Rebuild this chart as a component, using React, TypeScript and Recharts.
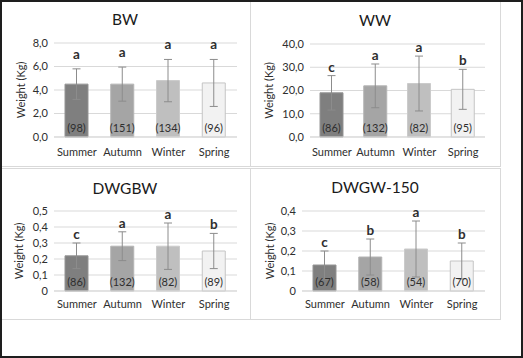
import {
  BarChart,
  Bar,
  XAxis,
  YAxis,
  CartesianGrid,
  ErrorBar,
  Cell,
  LabelList,
} from "recharts";

const seasons = ["Summer", "Autumn", "Winter", "Spring"];
const barFills = ["#7f7f7f", "#a5a5a5", "#bfbfbf", "#f2f2f2"];
const barStrokes = ["#959595", "#b4b4b4", "#cbcbcb", "#c4c4c4"];

// BW
const bwMean = [4.5, 4.5, 4.8, 4.6];
const bwSd = [1.3, 1.45, 1.8, 2.0];
const bwN = [98, 151, 134, 96];
const bwLetters = ["a", "a", "a", "a"];
const bwTicks = [0, 2, 4, 6, 8];
const bwTickLabels = ["0,0", "2,0", "4,0", "6,0", "8,0"];

// WW
const wwMean = [19, 22, 23, 20.5];
const wwSd = [7.4, 9.4, 11.8, 8.6];
const wwN = [86, 132, 82, 95];
const wwLetters = ["c", "a", "a", "b"];
const wwTicks = [0, 10, 20, 30, 40];
const wwTickLabels = ["0,0", "10,0", "20,0", "30,0", "40,0"];

// DWGBW
const dwgbwMean = [0.22, 0.28, 0.28, 0.25];
const dwgbwSd = [0.08, 0.09, 0.145, 0.11];
const dwgbwN = [86, 132, 82, 89];
const dwgbwLetters = ["c", "a", "a", "b"];
const dwgbwTicks = [0, 0.1, 0.2, 0.3, 0.4, 0.5];
const dwgbwTickLabels = ["0", "0,1", "0,2", "0,3", "0,4", "0,5"];

// DWGW-150
const dwgwMean = [0.13, 0.17, 0.21, 0.15];
const dwgwSd = [0.07, 0.09, 0.14, 0.09];
const dwgwN = [67, 58, 54, 70];
const dwgwLetters = ["c", "b", "a", "b"];
const dwgwTicks = [0, 0.1, 0.2, 0.3, 0.4];
const dwgwTickLabels = ["0", "0,1", "0,2", "0,3", "0,4"];

const FONT = "Lato, 'Open Sans', sans-serif";
const TEXT = "#2e2e2e";
const GRID = "#d9d9d9";

type Row = { season: string; mean: number; sd: number; n: string; idx: number; letter: string };

function buildRows(mean: number[], sd: number[], n: number[], letters: string[]): Row[] {
  return seasons.map((s, i) => ({
    season: s,
    mean: mean[i],
    sd: sd[i],
    n: `(${n[i]})`,
    idx: i,
    letter: letters[i],
  }));
}

interface PanelProps {
  title: string;
  rows: Row[];
  ticks: number[];
  tickLabels: string[];
  left: number;
  top: number;
  width: number;
  height: number;
  plotTop: number;
  plotRight: number;
  yAxisWidth: number;
  xAxisHeight: number;
  xTickMargin: number;
  labelDx: number;
  letterGap: number;
  titleY: number;
}

function boxOf(props: any) {
  const vb = props.viewBox ?? {};
  return {
    x: Number(props.x ?? vb.x),
    y: Number(props.y ?? vb.y),
    width: Number(props.width ?? vb.width),
    height: Number(props.height ?? vb.height),
  };
}

function Panel({
  title,
  rows,
  ticks,
  tickLabels,
  left,
  top,
  width,
  height,
  plotTop,
  plotRight,
  yAxisWidth,
  xAxisHeight,
  xTickMargin,
  labelDx,
  letterGap,
  titleY,
}: PanelProps) {
  const domainMax = ticks[ticks.length - 1];

  const renderCount = (props: any) => {
    const { x, y, width: w, height: h } = boxOf(props);
    return (
      <text
        x={x + w / 2}
        y={y + h - 10}
        textAnchor="middle"
        dominantBaseline="central"
        fontSize={11}
        fill={TEXT}
        fontFamily={FONT}
      >
        {props.value}
      </text>
    );
  };

  const renderLetter = (props: any) => {
    const { x, y, width: w, height: h } = boxOf(props);
    const row = rows[Number(props.value)];
    if (!row) return null;
    const pxPerUnit = h / row.mean;
    const errTop = y + h - (row.mean + row.sd) * pxPerUnit;
    return (
      <text
        x={x + w / 2}
        y={errTop - letterGap}
        textAnchor="middle"
        dominantBaseline="central"
        fontSize={13.5}
        fontWeight="bold"
        fill={TEXT}
        fontFamily={FONT}
      >
        {row.letter}
      </text>
    );
  };

  return (
    <div style={{ position: "absolute", left, top, width, height }}>
      <div
        style={{
          position: "absolute",
          left: 0,
          top: titleY - 11,
          width,
          textAlign: "center",
          fontFamily: FONT,
          fontSize: 15.5,
          lineHeight: "22px",
          color: "#1a1a1a",
        }}
      >
        {title}
      </div>
      <BarChart
        width={width}
        height={height}
        data={rows}
        margin={{ top: plotTop, right: plotRight, bottom: 0, left: 0 }}
        barCategoryGap="48%"
        style={{ fontFamily: FONT }}
      >
        <CartesianGrid vertical={false} stroke={GRID} />
        <XAxis
          dataKey="season"
          height={xAxisHeight}
          tickLine={false}
          tickSize={0}
          tickMargin={xTickMargin}
          axisLine={{ stroke: GRID }}
          tick={{ fill: TEXT, fontSize: 11, fontFamily: FONT }}
          interval={0}
        />
        <YAxis
          width={yAxisWidth}
          domain={[0, domainMax]}
          ticks={ticks}
          interval={0}
          tickLine={false}
          tickSize={0}
          tickMargin={6}
          axisLine={false}
          tick={{ fill: TEXT, fontSize: 11, fontFamily: FONT }}
          tickFormatter={(v: number) => {
            const i = ticks.findIndex((t) => Math.abs(t - v) < 1e-9);
            return i >= 0 ? tickLabels[i] : String(v);
          }}
          label={{
            value: "Weight (Kg)",
            angle: -90,
            position: "center",
            dx: labelDx,
            fill: TEXT,
            fontSize: 11,
            fontFamily: FONT,
          }}
        />
        <Bar dataKey="mean" barSize={23} isAnimationActive={false}>
          {rows.map((r, i) => (
            <Cell key={r.season} fill={barFills[i]} stroke={barStrokes[i]} strokeWidth={1} />
          ))}
          <ErrorBar dataKey="sd" width={4} stroke="#8c8c8c" strokeWidth={1} direction="y" />
          <LabelList dataKey="n" content={renderCount} />
          <LabelList dataKey="idx" content={renderLetter} />
        </Bar>
      </BarChart>
    </div>
  );
}

export default function App() {
  const border = `1px solid ${GRID}`;
  return (
    <div
      style={{
        position: "fixed",
        left: 0,
        top: 0,
        width: 523,
        height: 358,
        background: "#fff",
        overflow: "hidden",
      }}
    >
      <div style={{ position: "absolute", left: 0, top: 0, width: 251, height: 167, border, boxSizing: "border-box" }} />
      <div style={{ position: "absolute", left: 250, top: 1, width: 251, height: 166, border, boxSizing: "border-box" }} />
      <div style={{ position: "absolute", left: 0, top: 168, width: 251, height: 152, border, boxSizing: "border-box" }} />
      <div style={{ position: "absolute", left: 250, top: 168, width: 251, height: 152, border, boxSizing: "border-box" }} />

      <Panel
        title="BW"
        rows={buildRows(bwMean, bwSd, bwN, bwLetters)}
        ticks={bwTicks}
        tickLabels={bwTickLabels}
        left={0}
        top={0}
        width={250}
        height={166}
        plotTop={43}
        plotRight={13}
        yAxisWidth={54}
        xAxisHeight={29}
        xTickMargin={11}
        labelDx={-6}
        letterGap={15}
        titleY={19}
      />
      <Panel
        title="WW"
        rows={buildRows(wwMean, wwSd, wwN, wwLetters)}
        ticks={wwTicks}
        tickLabels={wwTickLabels}
        left={250}
        top={0}
        width={250}
        height={166}
        plotTop={44}
        plotRight={15}
        yAxisWidth={60}
        xAxisHeight={29}
        xTickMargin={11}
        labelDx={-11}
        letterGap={9}
        titleY={20}
      />
      <Panel
        title="DWGBW"
        rows={buildRows(dwgbwMean, dwgbwSd, dwgbwN, dwgbwLetters)}
        ticks={dwgbwTicks}
        tickLabels={dwgbwTickLabels}
        left={0}
        top={167}
        width={250}
        height={152}
        plotTop={44}
        plotRight={13}
        yAxisWidth={54}
        xAxisHeight={28}
        xTickMargin={9}
        labelDx={-8}
        letterGap={9}
        titleY={21}
      />
      <Panel
        title="DWGW-150"
        rows={buildRows(dwgwMean, dwgwSd, dwgwN, dwgwLetters)}
        ticks={dwgwTicks}
        tickLabels={dwgwTickLabels}
        left={250}
        top={167}
        width={250}
        height={152}
        plotTop={44}
        plotRight={15}
        yAxisWidth={52}
        xAxisHeight={28}
        xTickMargin={9}
        labelDx={-6}
        letterGap={9}
        titleY={20}
      />

      <div
        style={{
          position: "absolute",
          left: 0,
          top: 0,
          width: 523,
          height: 358,
          border: "2px solid #1e1e1e",
          boxSizing: "border-box",
          pointerEvents: "none",
        }}
      />
    </div>
  );
}
